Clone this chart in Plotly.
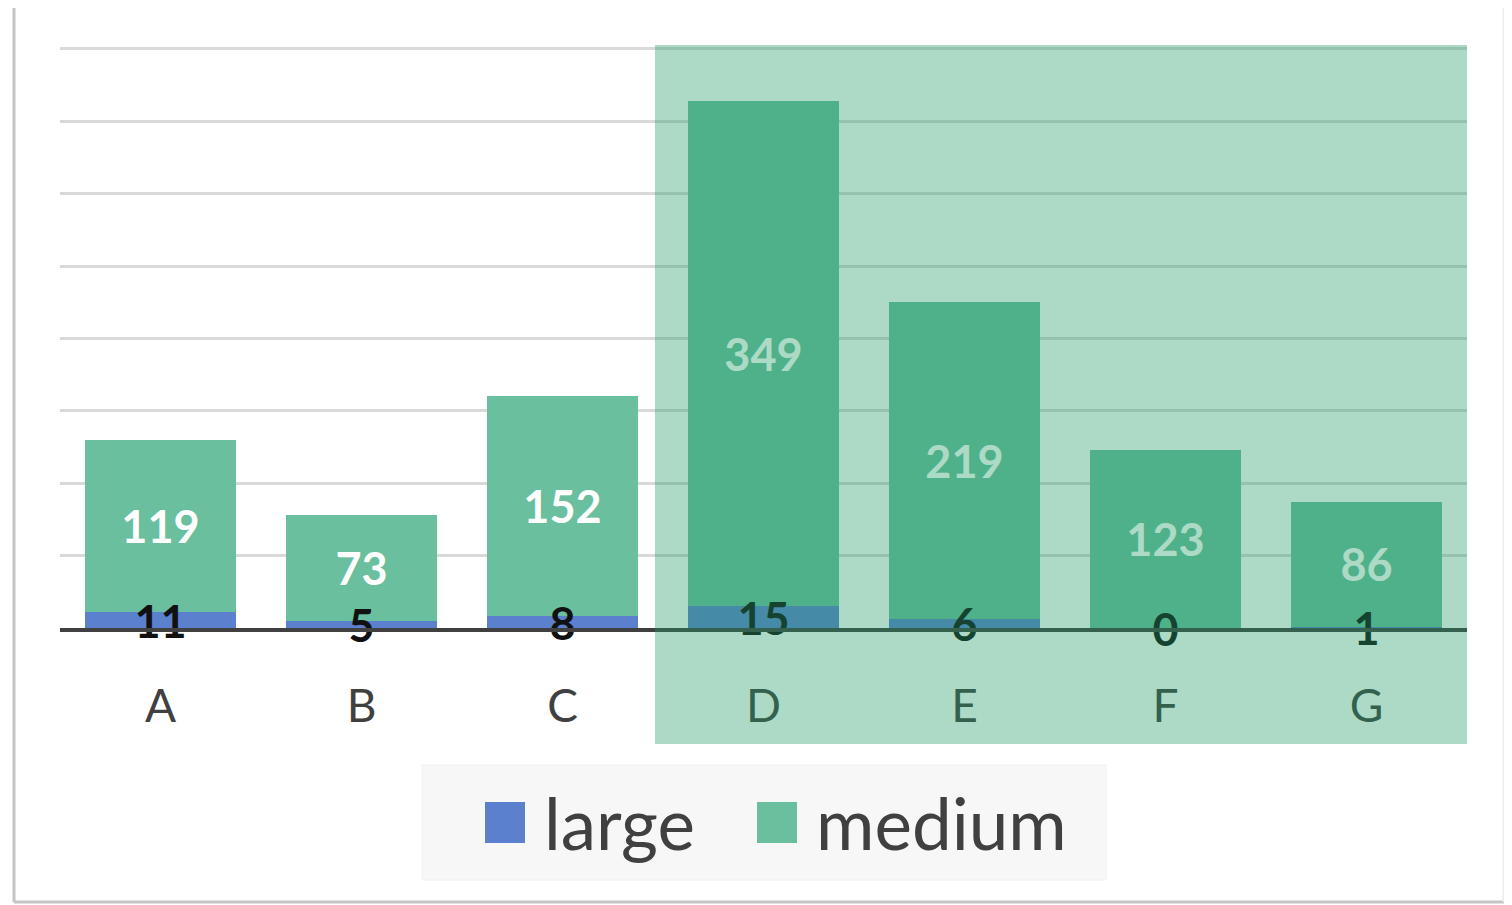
import plotly.graph_objects as go

categories = ["A", "B", "C", "D", "E", "F", "G"]
large = [11, 5, 8, 15, 6, 0, 1]
medium = [119, 73, 152, 349, 219, 123, 86]
series_names = ["large", "medium"]
y_ticks = [0, 50, 100, 150, 200, 250, 300, 350, 400]

OFF = 8  # page body margin
W, H = 1512 - OFF, 905 - OFF
# target pixel positions in the screenshot
PL, PR, PT, PB = 60, 1467, 46, 628
L, R, T, B = PL - OFF, W - (PR - OFF), PT - OFF, H - (PB - OFF)
PW, PH = PR - PL, PB - PT

def px(x):
    return (x - PL) / PW

def py(y):
    return (PB - y) / PH

BLUE = "#5b80ce"
GREEN = "#6abf9f"
FONT = "Lato"

fig = go.Figure()
fig.add_trace(go.Bar(
    x=categories, y=large, name=series_names[0], marker_color=BLUE,
    marker_line_width=0, textposition="none", showlegend=False,
))
fig.add_trace(go.Bar(
    x=categories, y=medium, name=series_names[1], marker_color=GREEN,
    marker_line_width=0, text=medium, textposition="inside",
    insidetextanchor="middle",
    textfont=dict(family=FONT, size=45, color="white", weight="bold"),
    showlegend=False,
))
# labels of the small "large" segments (twin axis so the text hangs just below centre)
fig.add_trace(go.Scatter(
    x=categories, y=[v / 2 for v in large], mode="text", yaxis="y2",
    text=[str(v) for v in large], textposition="bottom center",
    textfont=dict(family=FONT, size=45, color="#111111", weight="bold"),
    cliponaxis=False, showlegend=False, hoverinfo="skip",
))

shapes = []
# highlight overlay over D..G
shapes.append(dict(type="rect", xref="x", yref="paper", x0=2.46, x1=6.5,
                   y0=py(744), y1=py(45), fillcolor="rgb(33,154,100)",
                   opacity=0.37, line_width=0, layer="above"))
# outer border (right side faint)
for (xa, ya, xb, yb, col) in [
    (14, 4, 1512, 4, "#c4c4c4"),
    (14, 4, 14, 902, "#c4c4c4"),
    (14, 902, 1504, 902, "#c4c4c4"),
    (1504, 4, 1504, 902, "#ededed"),
]:
    shapes.append(dict(type="line", xref="paper", yref="paper",
                       x0=px(xa), y0=py(ya), x1=px(xb), y1=py(yb),
                       line=dict(color=col, width=3), layer="below"))
# legend box
shapes.append(dict(type="rect", xref="paper", yref="paper", x0=px(422), x1=px(1106),
                   y0=py(880), y1=py(765), fillcolor="#f7f7f7",
                   line=dict(color="#f0f0f0", width=1), layer="below"))
shapes.append(dict(type="rect", xref="paper", yref="paper", x0=px(485), x1=px(525),
                   y0=py(843), y1=py(802), fillcolor=BLUE, line_width=0))
shapes.append(dict(type="rect", xref="paper", yref="paper", x0=px(757), x1=px(797),
                   y0=py(843), y1=py(802), fillcolor=GREEN, line_width=0))

annotations = [
    dict(xref="paper", yref="paper", x=px(542), y=py(822), text=series_names[0],
         showarrow=False, xanchor="left", yanchor="middle",
         font=dict(family=FONT, size=71, color="#404040")),
    dict(xref="paper", yref="paper", x=px(814), y=py(822), text=series_names[1],
         showarrow=False, xanchor="left", yanchor="middle",
         font=dict(family=FONT, size=71, color="#404040")),
]

fig.update_layout(
    width=W, height=H, barmode="stack", bargap=0.244,
    margin=dict(l=L, r=R, t=T, b=B, autoexpand=False),
    paper_bgcolor="white", plot_bgcolor="white",
    showlegend=False, shapes=shapes, annotations=annotations,
    font=dict(family=FONT),
    yaxis=dict(range=[0, 402], tickvals=y_ticks, showticklabels=False,
               showgrid=True, gridcolor="#d9d9d9", gridwidth=2.5, zeroline=False),
    yaxis2=dict(overlaying="y", range=[-11, 391], visible=False, showgrid=False),
)
fig.update_xaxes(
    showline=True, linecolor="#404040", linewidth=4, showgrid=False,
    tickfont=dict(family=FONT, size=46, color="#404040"),
    ticks="", ticklabelstandoff=35, range=[-0.5, 6.5],
)

fig.write_html("out.html")
